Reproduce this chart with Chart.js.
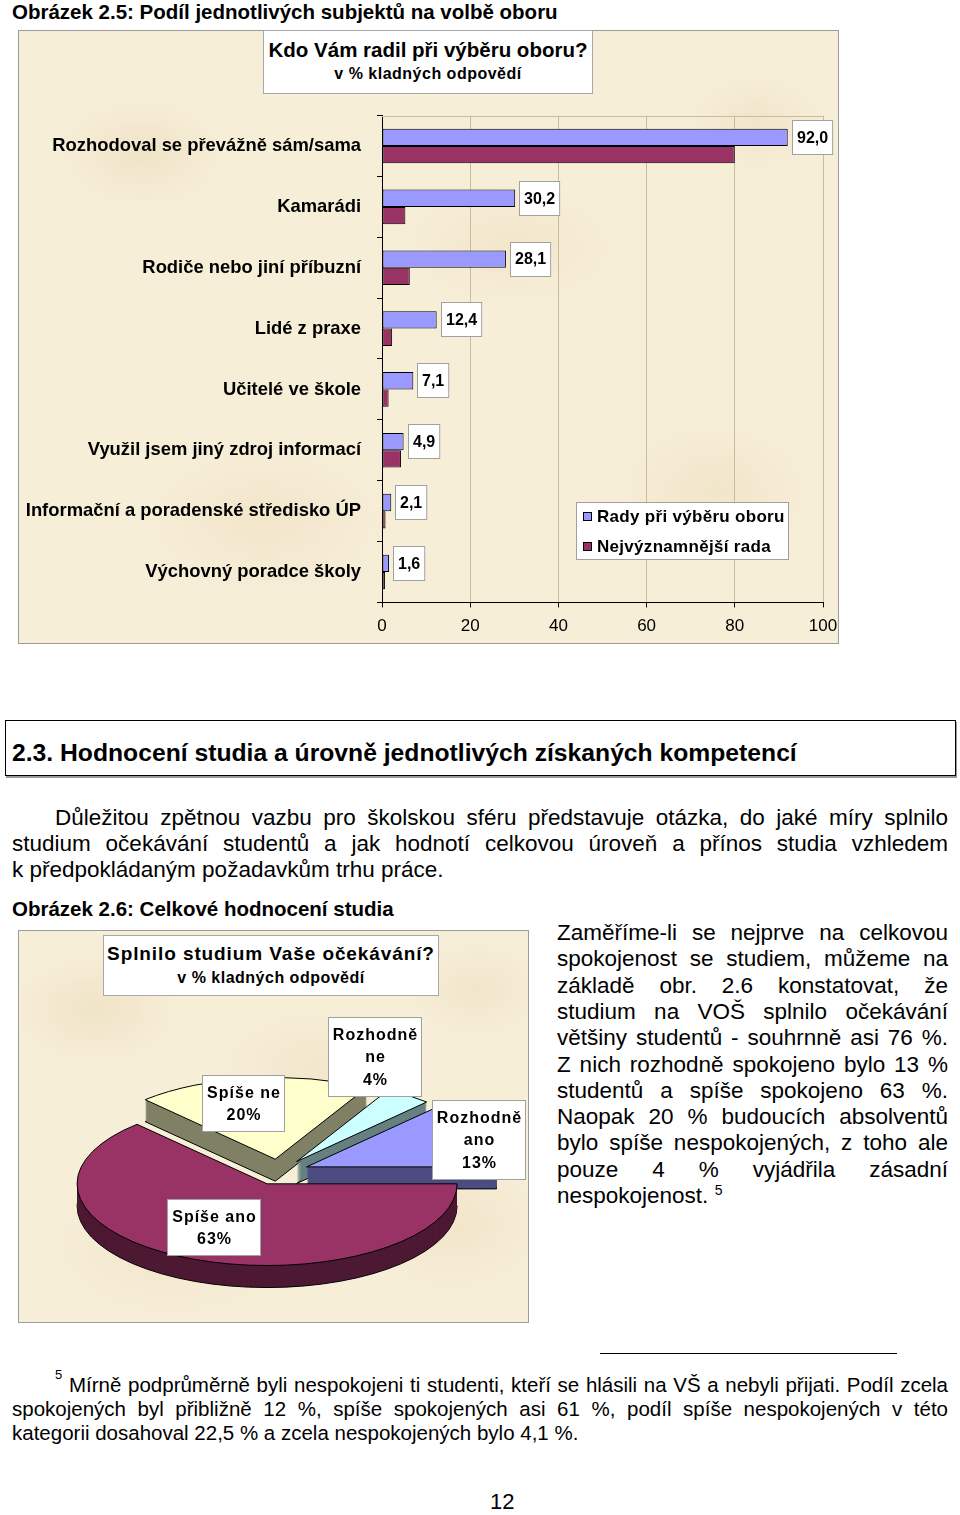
<!DOCTYPE html>
<html lang="cs"><head><meta charset="utf-8">
<script src="https://cdn.jsdelivr.net/npm/chart.js@4.4.1/dist/chart.umd.min.js"></script>
<style>
html,body{margin:0;padding:0;background:#fff;}
#page{position:relative;width:960px;height:1515px;overflow:hidden;font-family:"Liberation Sans",Arial,sans-serif;color:#000;background:#fff;}
.abs{position:absolute;white-space:nowrap;}
.cap{font-weight:bold;font-size:20.5px;line-height:24px;}
.chartbox{position:absolute;box-sizing:border-box;border:1px solid #9c9c9c;
  background-color:#f7eed8;
  background-image:
    radial-gradient(ellipse 120px 80px at 15% 20%, rgba(226,206,166,.35), transparent 70%),
    radial-gradient(ellipse 160px 90px at 60% 35%, rgba(232,212,172,.30), transparent 70%),
    radial-gradient(ellipse 140px 100px at 85% 75%, rgba(228,208,168,.30), transparent 70%),
    radial-gradient(ellipse 180px 110px at 30% 80%, rgba(230,210,170,.30), transparent 70%),
    radial-gradient(ellipse 100px 70px at 90% 15%, rgba(226,206,166,.28), transparent 70%);}
.tbox{position:absolute;box-sizing:border-box;background:#fff;border:1px solid #a8a8a8;font-weight:bold;}
.tbox div{position:absolute;left:0;right:0;text-align:center;white-space:nowrap;}
canvas{position:absolute;}
.body{font-size:22.5px;}
.jl{position:absolute;text-align:justify;text-align-last:justify;}
.ll{position:absolute;white-space:nowrap;}
.fn{font-size:20.5px;line-height:24px;}
sup{font-size:13px;line-height:0;vertical-align:super;}
</style></head>
<body>
<div id="page">
  <div class="abs cap" style="left:12px;top:0px;">Obrázek 2.5: Podíl jednotlivých subjektů na volbě oboru</div>

  <div class="chartbox" style="left:18px;top:30px;width:821px;height:614px;"></div>
  <canvas id="c1" width="820" height="613" style="left:18px;top:30px;"></canvas>
  <div class="tbox" style="left:263px;top:30px;width:330px;height:64px;">
    <div style="top:7px;font-size:20.5px;line-height:24px;">Kdo Vám radil při výběru oboru?</div>
    <div style="top:33px;font-size:16px;line-height:20px;letter-spacing:0.5px;">v % kladných odpovědí</div>
  </div>

  <div style="position:absolute;left:5px;top:720px;width:951px;height:56px;box-sizing:border-box;border:1px solid #000;box-shadow:1px 2px 0 #9a9a9a;"></div>
  <div class="abs" style="left:12px;top:738px;font-weight:bold;font-size:24.7px;line-height:30px;">2.3. Hodnocení studia a úrovně jednotlivých získaných kompetencí</div>

  <div class="body" style="line-height:26px;">
    <div class="jl" style="left:55px;top:805px;width:893px;">Důležitou zpětnou vazbu pro školskou sféru představuje otázka, do jaké míry splnilo</div>
    <div class="jl" style="left:12px;top:831px;width:936px;">studium očekávání studentů a jak hodnotí celkovou úroveň a přínos studia vzhledem</div>
    <div class="ll" style="left:12px;top:857px;">k předpokládaným požadavkům trhu práce.</div>
  </div>

  <div class="abs cap" style="left:12px;top:897px;">Obrázek 2.6: Celkové hodnocení studia</div>

  <div class="chartbox" style="left:18px;top:930px;width:511px;height:393px;"></div>
  <canvas id="c2" width="510" height="392" style="left:18px;top:930px;"></canvas>
  <div class="tbox" style="left:103px;top:935px;width:336px;height:61px;">
    <div style="top:6px;font-size:19px;line-height:24px;letter-spacing:0.9px;">Splnilo studium Vaše očekávání?</div>
    <div style="top:32px;font-size:16px;line-height:20px;letter-spacing:0.5px;">v % kladných odpovědí</div>
  </div>

  <div class="body" style="line-height:26.3px;">
    <div class="jl" style="left:557px;top:920px;width:391px;">Zaměříme-li se nejprve na celkovou</div>
    <div class="jl" style="left:557px;top:946.3px;width:391px;">spokojenost se studiem, můžeme na</div>
    <div class="jl" style="left:557px;top:972.6px;width:391px;">základě obr. 2.6 konstatovat, že</div>
    <div class="jl" style="left:557px;top:998.9px;width:391px;">studium na VOŠ splnilo očekávání</div>
    <div class="jl" style="left:557px;top:1025.2px;width:391px;">většiny studentů - souhrnně asi 76 %.</div>
    <div class="jl" style="left:557px;top:1051.5px;width:391px;">Z nich rozhodně spokojeno bylo 13 %</div>
    <div class="jl" style="left:557px;top:1077.8px;width:391px;">studentů a spíše spokojeno 63 %.</div>
    <div class="jl" style="left:557px;top:1104.1px;width:391px;">Naopak 20 % budoucích absolventů</div>
    <div class="jl" style="left:557px;top:1130.4px;width:391px;">bylo spíše nespokojených, z toho ale</div>
    <div class="jl" style="left:557px;top:1156.7px;width:391px;">pouze 4 % vyjádřila zásadní</div>
    <div class="ll" style="left:557px;top:1183px;">nespokojenost. <sup style="font-size:14px;">5</sup></div>
  </div>

  <div style="position:absolute;left:600px;top:1353px;width:297px;height:1px;background:#000;"></div>
  <div class="fn">
    <div class="ll" style="left:55px;top:1367px;font-size:13px;line-height:16px;">5</div>
    <div class="jl" style="left:69px;top:1373px;width:879px;">Mírně podprůměrně byli nespokojeni ti studenti, kteří se hlásili na VŠ a nebyli přijati. Podíl zcela</div>
    <div class="jl" style="left:12px;top:1397px;width:936px;">spokojených byl přibližně 12 %, spíše spokojených asi 61 %, podíl spíše nespokojených v této</div>
    <div class="ll" style="left:12px;top:1421px;">kategorii dosahoval 22,5 % a zcela nespokojených bylo 4,1 %.</div>
  </div>

  <div class="abs" style="left:490px;top:1490px;font-size:22px;line-height:24px;">12</div>
</div>

<script>
// ---------------- data: chart 2.5 ----------------
const categories = [
  'Rozhodoval se převážně sám/sama',
  'Kamarádi',
  'Rodiče nebo jiní příbuzní',
  'Lidé z praxe',
  'Učitelé ve škole',
  'Využil jsem jiný zdroj informací',
  'Informační a poradenské středisko ÚP',
  'Výchovný poradce školy'
];
const seriesNames = ['Rady při výběru oboru', 'Nejvýznamnější rada'];
const radyValues = [92.0, 30.2, 28.1, 12.4, 7.1, 4.9, 2.1, 1.6];
const nejvyznamnejsiValues = [80.0, 5.3, 6.3, 2.3, 1.5, 4.3, 0.8, 0.7];
const xTickValues = [0, 20, 40, 60, 80, 100];

// ---------------- data: chart 2.6 ----------------
const pieCategories = ['Rozhodně ano', 'Spíše ano', 'Spíše ne', 'Rozhodně ne'];
const pieValues = [13, 63, 20, 4];

// ---------------- styles ----------------
const FONT = '"Liberation Sans", Arial, sans-serif';
Chart.defaults.font.family = FONT;
Chart.defaults.color = '#000';
const GRID = '#c9bd9e';
const pieColors = ['#9999ff', '#993366', '#ffffcc', '#ccffff'];
const pieSideColors = ['#4c4c80', '#4d1933', '#808066', '#668080'];
const pieLabelOffsets = [[200, -32], [-65, 55.5], [-35.5, -68.5], [96, -115]];
const TILT = 0.43, DEPTH = 22, EXPLODE = 30;

const fmt = v => v.toFixed(1).replace('.', ',');

// ---------- chart 2.5 plugins ----------
const plotTop = {
  id: 'plotTop',
  beforeDatasetsDraw(chart) {
    const {ctx, chartArea: a} = chart;
    ctx.save();
    ctx.strokeStyle = GRID; ctx.lineWidth = 1;
    ctx.beginPath(); ctx.moveTo(a.left, Math.round(a.top) + 0.5); ctx.lineTo(a.right, Math.round(a.top) + 0.5); ctx.stroke();
    ctx.restore();
  }
};
const barLabels = {
  id: 'barLabels',
  afterDatasetsDraw(chart) {
    const ctx = chart.ctx;
    const meta = chart.getDatasetMeta(0);
    const vals = chart.data.datasets[0].data;
    ctx.save();
    ctx.font = 'bold 16px ' + FONT;
    ctx.textAlign = 'center'; ctx.textBaseline = 'middle';
    meta.data.forEach((bar, i) => {
      const t = fmt(vals[i]);
      const w = ctx.measureText(t).width + 10, h = 35;
      const bx = Math.round(bar.x + 4), by = Math.round(bar.y - h / 2);
      ctx.fillStyle = '#fff'; ctx.fillRect(bx, by, w, h);
      ctx.strokeStyle = '#a0a0a0'; ctx.lineWidth = 1; ctx.strokeRect(bx + 0.5, by + 0.5, w - 1, h - 1);
      ctx.fillStyle = '#000'; ctx.fillText(t, bx + w / 2, bar.y + 1);
    });
    ctx.restore();
  }
};
const barLegend = {
  id: 'barLegend',
  afterDraw(chart) {
    const {ctx, chartArea: a} = chart;
    const x = Math.round(a.left + 194), y = Math.round(a.top + 386.4), w = 213, h = 58;
    ctx.save();
    ctx.fillStyle = '#fff'; ctx.fillRect(x, y, w, h);
    ctx.strokeStyle = '#a0a0a0'; ctx.lineWidth = 1; ctx.strokeRect(x + 0.5, y + 0.5, w - 1, h - 1);
    ctx.font = 'bold 17px ' + FONT; ctx.textBaseline = 'middle'; ctx.textAlign = 'left';
    ctx.letterSpacing = '0.3px';
    chart.data.datasets.forEach((ds, i) => {
      const cy = y + 14 + i * 30;
      ctx.fillStyle = ds.backgroundColor; ctx.fillRect(x + 7, cy - 4, 9, 9);
      ctx.strokeStyle = '#000'; ctx.strokeRect(x + 7.5, cy - 3.5, 8, 8);
      ctx.fillStyle = '#000'; ctx.fillText(ds.label, x + 21, cy + 1);
    });
    ctx.restore();
  }
};

new Chart(document.getElementById('c1'), {
  type: 'bar',
  data: {
    labels: categories,
    datasets: [
      {label: seriesNames[0], data: radyValues, backgroundColor: '#9999ff', borderColor: '#000', borderWidth: 1, borderSkipped: false, categoryPercentage: 0.57, barPercentage: 1},
      {label: seriesNames[1], data: nejvyznamnejsiValues, backgroundColor: '#993366', borderColor: '#000', borderWidth: 1, borderSkipped: false, categoryPercentage: 0.57, barPercentage: 1}
    ]
  },
  options: {
    indexAxis: 'y', responsive: false, animation: false, devicePixelRatio: 1,
    layout: {padding: {left: 0, right: 15, top: 85.6, bottom: 0}},
    plugins: {legend: {display: false}, tooltip: {enabled: false}, title: {display: false}},
    scales: {
      x: {
        type: 'linear', min: 0, max: 100,
        afterBuildTicks(s) { s.ticks = xTickValues.map(v => ({value: v})); },
        afterFit(s) { s.height = 40.6; s.paddingLeft = 0; s.paddingRight = 0; },
        grid: {color: GRID, lineWidth: 1, tickLength: 5, tickColor: '#000', drawTicks: true},
        border: {display: true, color: '#000', width: 1},
        ticks: {font: {size: 17}, color: '#000', padding: 9, maxRotation: 0}
      },
      y: {
        type: 'category',
        afterFit(s) { s.width = 364; s.paddingTop = 0; s.paddingBottom = 0; },
        grid: {offset: true, drawOnChartArea: false, tickLength: 5, tickColor: '#000', drawTicks: true},
        border: {display: true, color: '#000', width: 1},
        ticks: {font: {size: 18.4, weight: 'bold'}, color: '#000', padding: 16, autoSkip: false}
      }
    }
  },
  plugins: [plotTop, barLabels, barLegend]
});

// ---------- chart 2.6: 3D exploded pie ----------
const pie3d = {
  id: 'pie3d',
  beforeDatasetsDraw(chart) {
    const ctx = chart.ctx;
    const arcs = chart.getDatasetMeta(0).data;
    const mid = a => (a.startAngle + a.endAngle) / 2;
    const order = arcs.map((a, i) => i).sort((i, j) => Math.sin(mid(arcs[i])) - Math.sin(mid(arcs[j])));
    for (const i of order) {
      const a = arcs[i];
      const m = mid(a);
      const ex = Math.cos(m) * EXPLODE, ey = Math.sin(m) * EXPLODE;
      const face = (dy, color, stroke) => {
        ctx.save();
        ctx.translate(0, dy);
        ctx.translate(a.x, a.y); ctx.scale(1, TILT); ctx.translate(-a.x, -a.y);
        ctx.translate(ex, ey);
        const o = a.options;
        a.options = Object.assign({}, o, color ? {backgroundColor: color} : {});
        a.draw(ctx);
        a.options = o;
        if (stroke) {
          ctx.beginPath();
          ctx.moveTo(a.x, a.y);
          ctx.arc(a.x, a.y, a.outerRadius, a.startAngle, a.endAngle);
          ctx.closePath();
        }
        ctx.restore();
        if (stroke) {
          ctx.save(); ctx.lineWidth = 1; ctx.strokeStyle = '#000'; ctx.lineJoin = 'round'; ctx.stroke(); ctx.restore();
        }
      };
      face(DEPTH, pieSideColors[i], true);
      for (let d = DEPTH - 1; d > 0; d--) face(d, pieSideColors[i], false);
      face(0, null, true);
    }
    return false;
  },
  afterDraw(chart) {
    const ctx = chart.ctx;
    const arcs = chart.getDatasetMeta(0).data;
    const labels = chart.data.labels, vals = chart.data.datasets[0].data;
    ctx.save();
    ctx.font = 'bold 16px ' + FONT;
    ctx.letterSpacing = '1px';
    ctx.textAlign = 'center'; ctx.textBaseline = 'middle';
    arcs.forEach((a, i) => {
      let lines = [labels[i]];
      if (ctx.measureText(labels[i]).width > 95) lines = labels[i].split(' ');
      lines.push(vals[i] + '%');
      const tw = Math.max(...lines.map(l => ctx.measureText(l).width));
      const lh = 22.5;
      const w = Math.round(tw + 9), h = Math.round(lines.length * lh + 12);
      const cx = a.x + pieLabelOffsets[i][0], cy = a.y + pieLabelOffsets[i][1];
      const bx = Math.round(cx - w / 2), by = Math.round(cy - h / 2);
      ctx.fillStyle = '#fff'; ctx.fillRect(bx, by, w, h);
      ctx.strokeStyle = '#a0a0a0'; ctx.lineWidth = 1; ctx.strokeRect(bx + 0.5, by + 0.5, w - 1, h - 1);
      ctx.fillStyle = '#000';
      lines.forEach((l, k) => ctx.fillText(l, cx + 0.5, by + 6 + lh * (k + 0.5) + 1));
    });
    ctx.restore();
  }
};

const pieTotal = pieValues.reduce((s, v) => s + v, 0);
new Chart(document.getElementById('c2'), {
  type: 'pie',
  data: {
    labels: pieCategories,
    datasets: [{data: pieValues, backgroundColor: pieColors, borderWidth: 0}]
  },
  options: {
    responsive: false, animation: false, devicePixelRatio: 1,
    radius: 190,
    rotation: 90 - 360 * pieValues[0] / pieTotal,
    layout: {padding: {left: 12, right: 0, top: 92, bottom: 0}},
    plugins: {legend: {display: false}, tooltip: {enabled: false}}
  },
  plugins: [pie3d]
});
</script>
</body></html>
